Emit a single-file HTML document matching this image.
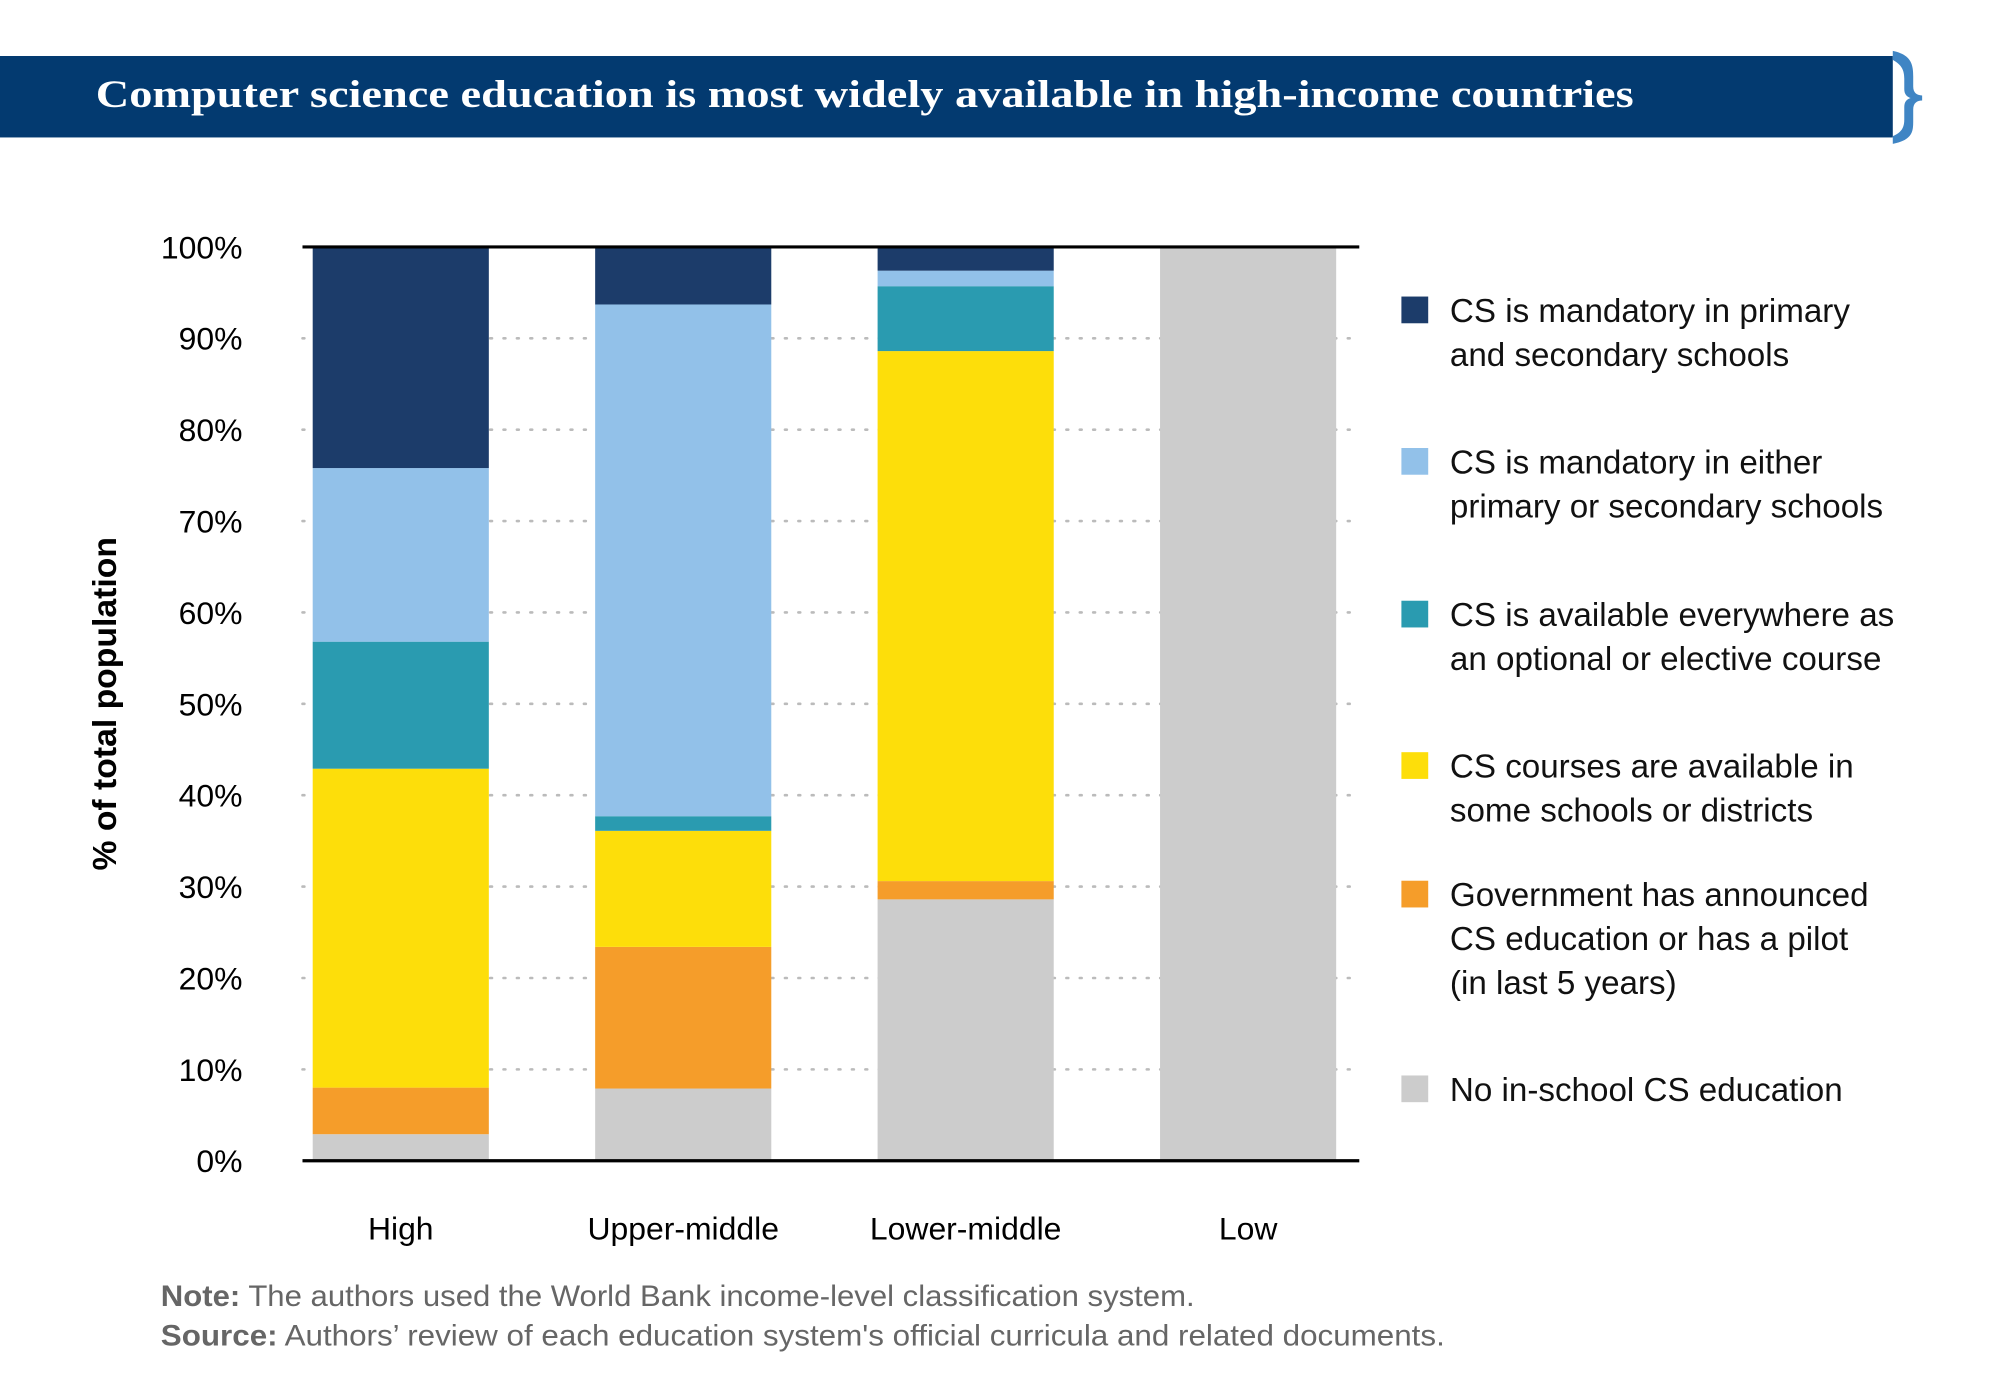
<!DOCTYPE html>
<html><head><meta charset="utf-8"><style>
html,body{margin:0;padding:0;background:#fff;}
svg{display:block;}
</style></head><body>
<svg id="chart" width="2000" height="1400" viewBox="0 0 1567 1100" preserveAspectRatio="none" xmlns="http://www.w3.org/2000/svg" font-family="Liberation Sans, sans-serif">
<g>
<rect x="0" y="44" width="1483" height="64" fill="#033a70"/>
<path d="M1483,40 C1497,43 1499,50 1499,60 L1499,68 C1499,73 1502,75 1506,75 L1506,79 C1502,79 1499,81 1499,86 L1499,96 C1499,105 1497,110 1483,113 L1483,107 C1490,104 1492,100 1492,94 L1492,84 C1492,80 1494,78 1497,77 C1494,76 1492,74 1492,70 L1492,62 C1492,55 1490,51 1483,47 Z" fill="#3f85c4"/>
<text x="75" y="84" fill="#fff" font-family="Liberation Serif, serif" font-weight="bold" font-size="31" textLength="1205" lengthAdjust="spacingAndGlyphs">Computer science education is most widely available in high-income countries</text>
</g>
<g id="grid"></g>
<g id="bars"></g>
<line x1="237" y1="194" x2="1065" y2="194" stroke="#000" stroke-width="2.5"/>
<line x1="237" y1="912" x2="1065" y2="912" stroke="#000" stroke-width="2.5"/>
<g id="yticks"></g>
<g id="xticks"></g>
<text transform="translate(91,553) rotate(-90)" text-anchor="middle" font-size="26" font-weight="bold" fill="#000" textLength="262" lengthAdjust="spacingAndGlyphs">% of total population</text>
<g id="legend"></g>
<g font-size="23" fill="#666">
<text x="126" y="1026" textLength="810" lengthAdjust="spacingAndGlyphs"><tspan font-weight="bold">Note:</tspan> The authors used the World Bank income-level classification system.</text>
<text x="126" y="1057" textLength="1006" lengthAdjust="spacingAndGlyphs"><tspan font-weight="bold">Source:</tspan> Authors’ review of each education system's official curricula and related documents.</text>
</g>
</svg>
<script>
const categories = ["High","Upper-middle","Lower-middle","Low"];
const noneVals       = [2.9, 7.9, 28.6, 100];
const announcedVals  = [5.1, 15.5, 2.0, 0];
const someVals       = [34.9, 12.7, 58.0, 0];
const optionalVals   = [13.9, 1.6, 7.1, 0];
const eitherVals     = [19.0, 56.0, 1.7, 0];
const mandatoryVals  = [24.2, 6.3, 2.6, 0];
const yTicks = [0,10,20,30,40,50,60,70,80,90,100];
const seriesNames = ["CS is mandatory in primary|and secondary schools","CS is mandatory in either|primary or secondary schools","CS is available everywhere as|an optional or elective course","CS courses are available in|some schools or districts","Government has announced|CS education or has a pilot|(in last 5 years)","No in-school CS education"];

const NS="http://www.w3.org/2000/svg";
const series=[noneVals,announcedVals,someVals,optionalVals,eitherVals,mandatoryVals];
const colors=["#cccccc","#f59d2a","#fdde0a","#2a9bb0","#92c1e9","#1c3c6a"];
const keys=["none","announced","some","optional","either","mandatory"];
const y=v=>912-(v/100)*718;
const x0=245, pitch=221.3, bw=138;
const xb=i=>x0+i*pitch;
function el(t,a,p){const e=document.createElementNS(NS,t);for(const k in a)e.setAttribute(k,a[k]);p.appendChild(e);return e;}
const grid=document.getElementById('grid');
yTicks.forEach(t=>{if(t===0||t===100)return;
 const l=el('line',{x1:237,x2:1065,y1:y(t),y2:y(t),stroke:'#bbb','stroke-width':2,'stroke-dasharray':'1.5 9','stroke-linecap':'round'},grid);
 
 
});
const bars=document.getElementById('bars');
categories.forEach((c,i)=>{let acc=0;
 series.forEach((s,k)=>{const v=s[i];if(v<=0)return;
  const r=el('rect',{x:xb(i),width:bw,y:y(acc+v),height:y(acc)-y(acc+v),fill:colors[k]},bars);
  
  
  acc+=v;});
});
const yt=document.getElementById('yticks');
yTicks.forEach(t=>{const tx=el('text',{x:190,y:y(t)+9,'text-anchor':'end','font-size':25,fill:'#000'},yt);tx.textContent=t+'%';
 
 });
const xt=document.getElementById('xticks');
categories.forEach((c,i)=>{const tx=el('text',{x:xb(i)+bw/2,y:974,'text-anchor':'middle','font-size':25,fill:'#000'},xt);tx.textContent=c;
 
 });
const lg=document.getElementById('legend');
const legY=[233,352,472,591,692,845];
seriesNames.forEach((n,k)=>{const ci=5-k;
 const g=el('g',{},lg);
 
 
 el('rect',{x:1098,y:legY[k],width:21,height:21,fill:colors[ci]},g);
 n.split('|').forEach((line,j)=>{const tx=el('text',{x:1136,y:legY[k]+20+j*34.5,'font-size':26,fill:'#111'},g);tx.textContent=line;});
});
</script>
</body></html>
